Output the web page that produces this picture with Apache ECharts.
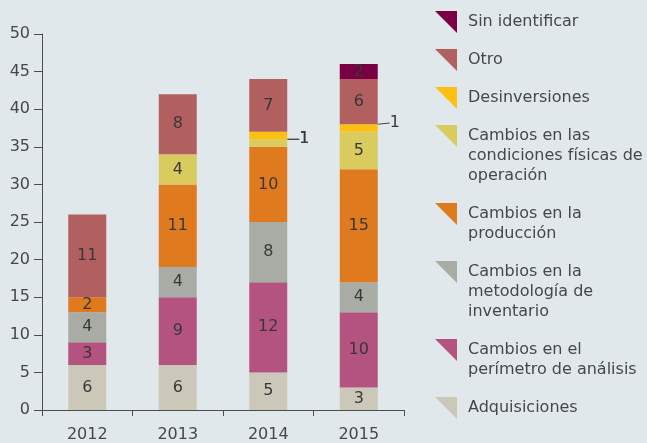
<!DOCTYPE html>
<html>
<head>
<meta charset="utf-8">
<script src="https://cdn.jsdelivr.net/npm/echarts@6/dist/echarts.min.js"></script>
<style>
  html, body { margin: 0; padding: 0; background: #e1e8eb; }
  #chart { width: 647px; height: 443px; }
</style>
</head>
<body>
<div id="chart"></div>
<script>
var years = ['2012', '2013', '2014', '2015'];
var adquisiciones = [6, 6, 5, 3];
var perimetro = [3, 9, 12, 10];
var metodologia = [4, 4, 8, 4];
var produccion = [2, 11, 10, 15];
var condiciones = [0, 4, 1, 5];
var desinversiones = [0, 0, 1, 1];
var otro = [11, 8, 7, 6];
var sinIdentificar = [0, 0, 0, 2];

var chart = echarts.init(document.getElementById('chart'));

var FONT = 'DejaVu Sans';
var LINE_H = 20;

// stack order, bottom to top
var seriesDefs = [
  { name: 'Adquisiciones', text: 'Adquisiciones', color: '#cbc8b9', data: adquisiciones },
  { name: 'Cambios en el perímetro de análisis', text: 'Cambios en el\nperímetro de análisis', color: '#b45380', data: perimetro },
  { name: 'Cambios en la metodología de inventario', text: 'Cambios en la\nmetodología de\ninventario', color: '#a9aca4', data: metodologia },
  { name: 'Cambios en la producción', text: 'Cambios en la\nproducción', color: '#e07a1f', data: produccion },
  { name: 'Cambios en las condiciones físicas de operación', text: 'Cambios en las\ncondiciones físicas de\noperación', color: '#d9cb5e', data: condiciones },
  { name: 'Desinversiones', text: 'Desinversiones', color: '#fdc010', data: desinversiones },
  { name: 'Otro', text: 'Otro', color: '#b15f5f', data: otro },
  { name: 'Sin identificar', text: 'Sin identificar', color: '#7a0044', data: sinIdentificar }
];

// small "1" segments get an outside label with a leader line
var shiftY = { '4-2': -3.8, '5-2': 3.8, '5-3': -5 };

var series = seriesDefs.map(function (d, si) {
  return {
    name: d.name,
    type: 'bar',
    stack: 'total',
    barWidth: 38,
    itemStyle: { color: d.color },
    label: {
      show: true,
      position: 'inside',
      fontFamily: FONT,
      fontSize: 16,
      color: '#383838',
      formatter: function (p) { return p.value > 1 ? p.value : ''; }
    },
    labelLine: { show: true, lineStyle: { color: '#444', width: 1 } },
    labelLayout: function (p) {
      var k = p.seriesIndex + '-' + p.dataIndex;
      return shiftY[k] !== undefined ? { dy: shiftY[k] } : {};
    },
    data: d.data.map(function (v) {
      if (v === 1) {
        return {
          value: v,
          label: { position: 'right', distance: 12, formatter: '{c}' }
        };
      }
      return v;
    })
  };
});

// one legend per entry so the icon lines up with the first text line;
// empty lines in front push the first real line onto the icon centre
var legends = [];
var center = 22;
var prevLines = 0;
seriesDefs.slice().reverse().forEach(function (d, i) {
  var n = d.text.split('\n').length;
  if (i > 0) center += 38 + (prevLines - 1) * LINE_H;
  prevLines = n;
  var shown = new Array(n).join('\n') + d.text;
  var above = Math.min(0, 11 - (2 * n - 1) * LINE_H / 2);
  legends.push({
    data: [d.name],
    orient: 'vertical',
    left: 435,
    top: center - 11 + above,
    padding: 0,
    itemWidth: 22,
    itemHeight: 22,
    icon: 'path://M0,0L22,0L22,22Z',
    selectedMode: false,
    formatter: function () { return shown; },
    textStyle: {
      fontFamily: FONT,
      fontSize: 16,
      color: '#474747',
      lineHeight: LINE_H,
      padding: [0, 0, 0, 6]
    }
  });
});

var option = {
  backgroundColor: '#e1e8eb',
  animation: false,
  legend: legends,
  grid: { left: 42, right: 243, top: 34, bottom: 31 },
  xAxis: {
    type: 'category',
    data: years,
    axisLine: { lineStyle: { color: '#4d4d4d', width: 1 } },
    axisTick: { show: true, length: 6, lineStyle: { color: '#4d4d4d' } },
    axisLabel: { fontFamily: FONT, fontSize: 16, color: '#474747', margin: 17 }
  },
  yAxis: {
    type: 'value',
    min: 0,
    max: 50,
    interval: 5,
    splitLine: { show: false },
    axisLine: { show: true, lineStyle: { color: '#4d4d4d', width: 1 } },
    axisTick: { show: true, length: 8, lineStyle: { color: '#4d4d4d' } },
    axisLabel: { fontFamily: FONT, fontSize: 16, color: '#474747', margin: 12 }
  },
  series: series
};

chart.setOption(option);
</script>
</body>
</html>
